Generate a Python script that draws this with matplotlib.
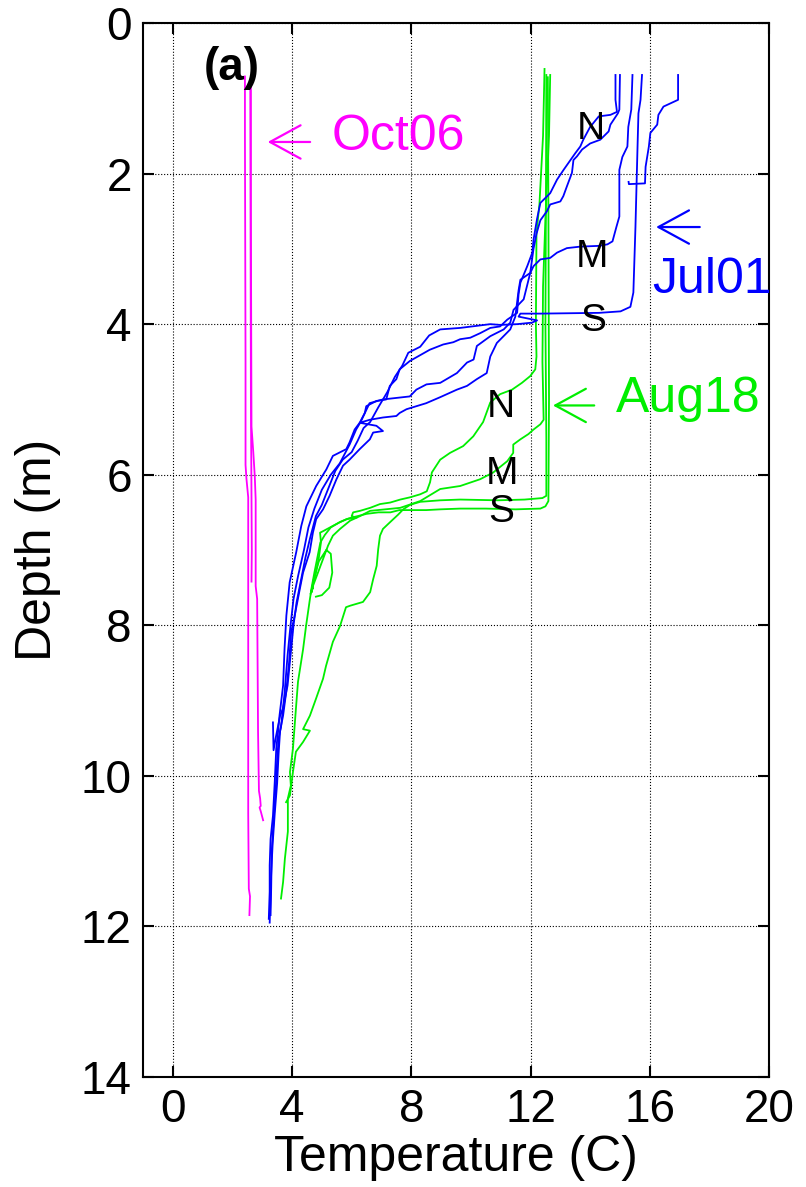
import matplotlib
matplotlib.use('Agg')
import matplotlib.pyplot as plt

plt.rcParams['font.family'] = ['Liberation Sans', 'DejaVu Sans']

# Jul01 casts (blue): temperature (C) and depth (m)
jul_n1_t = [14.85, 14.85, 14.9, 14.68, 14.29, 14.0, 13.77, 13.67, 13.5, 13.34, 13.11, 12.89, 12.66, 12.33,
            12.22, 12.1, 12.06, 11.89, 11.66, 11.6, 11.55, 11.22, 10.98, 10.65, 10.31, 9.98, 9.64, 9.41,
            9.07, 8.62, 7.95, 7.61, 7.5, 7.28, 7.16, 6.83, 6.49, 6.44, 6.27, 6.1, 5.93, 5.82, 5.37, 5.15,
            4.81, 4.48, 4.31, 4.14, 3.92, 3.81, 3.75, 3.7, 3.58, 3.53, 3.47, 3.42, 3.36, 3.28, 3.25, 3.25, 3.22]
jul_n1_d = [0.69, 1.02, 1.18, 1.22, 1.24, 1.38, 1.55, 1.64, 1.73, 1.82, 1.95, 2.08, 2.26, 2.39,
            2.6, 2.88, 3.05, 3.23, 3.45, 3.6, 3.85, 3.94, 4.03, 4.05, 4.12, 4.18, 4.2, 4.24,
            4.27, 4.34, 4.49, 4.6, 4.73, 4.82, 5.0, 5.02, 5.09, 5.18, 5.31, 5.4, 5.57, 5.66, 5.75, 5.93,
            6.15, 6.42, 6.68, 7.03, 7.43, 7.87, 8.3, 8.8, 9.2, 9.42, 9.64, 10.08, 10.53, 10.84, 11.19, 11.54, 11.9]

jul_n2_t = [15.0, 14.98, 14.93, 14.68, 14.62, 14.34, 14.0, 13.73, 13.56, 13.44, 13.39, 13.22, 13.1, 13.0,
            12.66, 12.55, 12.33, 12.2, 12.1, 11.99, 11.77, 11.43, 11.32, 11.1, 10.65, 10.2, 10.09, 9.87,
            9.53, 8.97, 8.51, 8.17, 7.95, 7.5, 7.05, 6.6, 6.3, 6.15, 5.93, 5.6, 5.3, 5.0, 4.75, 4.55,
            4.4, 4.2, 4.05, 3.95, 3.85, 3.75, 3.63, 3.55, 3.5, 3.45, 3.38, 3.32, 3.3, 3.28]
jul_n2_d = [0.69, 1.15, 1.2, 1.35, 1.44, 1.55, 1.6, 1.68, 1.77, 1.82, 1.99, 2.17, 2.3, 2.37,
            2.41, 2.5, 2.62, 2.8, 3.0, 3.32, 3.67, 3.81, 3.98, 4.07, 4.16, 4.29, 4.47, 4.51,
            4.65, 4.78, 4.8, 4.87, 4.96, 4.98, 5.0, 5.05, 5.3, 5.4, 5.6, 5.85, 6.0, 6.2, 6.45, 6.7,
            7.0, 7.35, 7.65, 8.0, 8.4, 8.9, 9.35, 9.5, 9.8, 10.2, 10.6, 11.0, 11.5, 11.85]

jul_m_t = [15.42, 15.38, 15.28, 15.25, 15.08, 14.98, 14.98, 14.88, 14.75, 14.58, 14.3, 13.67, 13.22, 12.89,
           12.66, 12.33, 12.1, 11.99, 11.66, 11.6, 11.49, 11.32, 10.87, 10.65, 10.53, 10.2, 9.87, 9.53,
           8.97, 8.5, 8.17, 7.84, 7.61, 7.5, 7.05, 6.61, 6.27, 6.83, 7.05, 6.72, 6.61, 6.27, 5.93, 5.71,
           5.49, 5.26, 5.04, 4.81, 4.7, 4.59, 4.37, 4.26, 4.09, 3.97, 3.9, 3.8, 3.7, 3.6, 3.55, 3.5,
           3.42, 3.35, 3.3, 3.27, 3.25]
jul_m_d = [0.69, 1.15, 1.38, 1.64, 1.78, 1.95, 2.57, 2.71, 2.9, 2.94, 2.96, 2.97, 2.99, 3.05,
           3.12, 3.14, 3.23, 3.32, 3.41, 3.55, 3.9, 4.07, 4.25, 4.43, 4.65, 4.73, 4.82, 4.87,
           4.97, 5.05, 5.09, 5.13, 5.18, 5.22, 5.24, 5.27, 5.31, 5.35, 5.42, 5.44, 5.53, 5.66, 5.8, 5.88,
           6.06, 6.28, 6.46, 6.59, 6.77, 7.03, 7.3, 7.52, 7.87, 8.09, 8.5, 8.9, 9.2, 9.4, 9.7, 10.1,
           10.5, 10.9, 11.3, 11.7, 11.95]

jul_s_t = [15.74, 15.69, 15.62, 15.59, 15.52, 15.45, 15.35, 15.02, 14.3, 12.33, 11.66, 11.6, 12.22, 12.05,
           11.55, 10.98, 10.65, 9.64, 8.97, 8.6, 8.3, 7.9, 7.7, 7.45, 7.2, 6.9, 6.62, 6.4, 6.2, 6.0,
           5.7, 5.45, 5.2, 5.0, 4.8, 4.6, 4.45, 4.3, 4.15, 4.05, 3.95, 3.85, 3.7, 3.6, 3.45, 3.38, 3.36]
jul_s_d = [0.69, 1.02, 1.2, 1.64, 2.71, 3.58, 3.77, 3.83, 3.85, 3.86, 3.86, 3.9, 3.95, 3.98,
           4.0, 4.01, 4.0, 4.05, 4.07, 4.15, 4.3, 4.38, 4.55, 4.7, 4.9, 5.1, 5.3, 5.38, 5.55, 5.7,
           5.8, 5.95, 6.2, 6.4, 6.55, 6.85, 7.1, 7.4, 7.7, 8.0, 8.4, 8.8, 9.1, 9.2, 9.5, 9.66, 9.29]

jul_r_t = [16.95, 16.95, 16.46, 16.29, 16.25, 16.02, 15.97, 15.86, 15.84, 15.3, 15.29]
jul_r_d = [0.69, 1.02, 1.11, 1.22, 1.35, 1.46, 1.64, 1.91, 2.13, 2.14, 2.11]

# Aug18 casts (green)
aug_n_t = [12.47, 12.42, 12.3, 12.2, 12.18, 12.2, 12.16, 11.99, 11.71, 11.38, 10.98, 10.65, 10.41,
           10.08, 9.74, 9.3, 8.97, 8.69, 8.63, 8.52, 8.3, 7.96, 7.63, 7.29, 6.95, 6.62, 6.28, 6.05, 6.0,
           6.17, 5.83, 5.61, 5.37, 5.04, 4.94, 4.97, 4.9, 4.8, 4.7, 4.62, 4.6, 4.47, 4.37, 4.2, 4.13,
           4.03, 3.93, 3.96, 3.86, 3.86, 3.76, 3.7, 3.63]
aug_n_d = [0.61, 1.5, 2.4, 2.8, 4.0, 4.43, 4.6, 4.69, 4.78, 4.87, 4.93, 5.04, 5.3,
           5.49, 5.62, 5.71, 5.8, 5.97, 6.1, 6.22, 6.26, 6.3, 6.33, 6.37, 6.39, 6.44, 6.48, 6.5, 6.55,
           6.57, 6.59, 6.63, 6.68, 6.75, 6.77, 6.9, 7.1, 7.3, 7.45, 7.6, 7.65, 8.01, 8.32, 8.75, 9.11,
           9.64, 9.95, 10.13, 10.3, 10.74, 11.1, 11.41, 11.63]

aug_m_t = [12.66, 12.62, 12.5, 12.42, 12.4, 12.44, 12.33, 12.1, 11.93, 11.66, 11.42, 11.42, 11.22, 10.75,
           10.31, 9.64, 8.97, 8.3, 7.63, 6.62, 6.28, 5.95, 5.61, 5.37, 5.21, 5.04, 4.87, 4.7, 4.66, 4.72,
           4.9, 5.15, 5.3, 5.35, 5.25, 5.0, 4.8]
aug_m_d = [0.69, 1.5, 2.6, 3.5, 4.5, 5.27, 5.33, 5.4, 5.46, 5.53, 5.6, 5.71, 5.82, 5.97,
           6.06, 6.15, 6.19, 6.35, 6.44, 6.48, 6.55, 6.61, 6.72, 6.81, 6.94, 7.12, 7.3, 7.48, 7.56, 7.4,
           7.15, 7.0, 7.05, 7.3, 7.5, 7.6, 7.62]

aug_s1_t = [12.53, 12.52, 12.5, 12.53, 12.53, 12.4, 11.8, 10.9, 9.64, 8.97, 8.3, 7.96, 7.73, 7.56,
            7.29, 7.05, 6.95, 6.89, 6.84, 6.72, 6.62, 6.38, 5.95, 5.81, 5.61, 5.37, 5.14, 5.04, 4.8, 4.6,
            4.37, 4.6, 4.37, 4.13, 4.03, 3.93, 3.8]
aug_s1_d = [0.69, 2.0, 4.0, 5.5, 6.28, 6.31, 6.33, 6.34, 6.33, 6.34, 6.36, 6.4, 6.46, 6.53,
            6.63, 6.72, 6.81, 6.99, 7.21, 7.39, 7.56, 7.69, 7.74, 7.76, 8.01, 8.22, 8.54, 8.71, 8.98, 9.2,
            9.38, 9.4, 9.55, 9.68, 9.95, 10.26, 10.35]

aug_s2_t = [12.58, 12.6, 12.62, 12.6, 12.5, 12.33, 11.5, 10.5, 9.64, 8.97, 8.5, 8.0, 7.6, 7.3,
            6.9, 6.5, 6.2, 5.9, 5.6, 5.3, 5.1, 4.95, 4.85, 4.75, 4.68, 4.63, 4.7, 4.62]
aug_s2_d = [0.72, 2.5, 5.0, 6.35, 6.42, 6.45, 6.46, 6.45, 6.45, 6.46, 6.47, 6.47, 6.47, 6.5,
            6.5, 6.52, 6.55, 6.58, 6.63, 6.7, 6.8, 6.9, 7.1, 7.3, 7.45, 7.56, 7.5, 7.58]

# Oct06 casts (magenta)
oct_1_t = [2.42, 2.42, 2.43, 2.44, 2.44, 2.47, 2.53, 2.53, 2.53, 2.53, 2.55, 2.59, 2.57]
oct_1_d = [0.71, 1.5, 3.0, 4.5, 5.87, 6.05, 6.3, 8.0, 9.5, 10.5, 11.5, 11.6, 11.85]

oct_2_t = [2.62, 2.62, 2.63, 2.64, 2.7, 2.75, 2.78, 2.78, 2.83, 2.86, 2.89, 2.93, 2.95, 2.91, 2.95, 3.03]
oct_2_d = [0.84, 2.5, 4.0, 5.36, 5.7, 6.02, 6.33, 7.48, 7.65, 9.42, 10.2, 10.3, 10.4, 10.42, 10.47, 10.59]

oct_3_t = [2.6, 2.61, 2.62, 2.64, 2.65, 2.64]
oct_3_d = [0.9, 3.0, 5.0, 6.3, 7.0, 7.42]

blue = '#0000ff'
green = '#00ee00'
magenta = '#ff00ff'

fig = plt.figure(figsize=(8.06, 11.87), dpi=100)
ax = fig.add_axes([0.1774, 0.0927, 0.9541 - 0.1774, 0.9806 - 0.0927])

lw = 1.3
for t, d in [(oct_1_t, oct_1_d), (oct_2_t, oct_2_d), (oct_3_t, oct_3_d)]:
    ax.plot(t, d, color=magenta, lw=lw)
for t, d in [(aug_n_t, aug_n_d), (aug_m_t, aug_m_d), (aug_s1_t, aug_s1_d), (aug_s2_t, aug_s2_d)]:
    ax.plot(t, d, color=green, lw=lw)
for t, d in [(jul_n1_t, jul_n1_d), (jul_n2_t, jul_n2_d), (jul_m_t, jul_m_d),
             (jul_s_t, jul_s_d), (jul_r_t, jul_r_d)]:
    ax.plot(t, d, color=blue, lw=lw)

ax.set_xlim(-1, 20)
ax.set_ylim(14, 0)
ax.set_xticks([0, 4, 8, 12, 16, 20])
ax.set_yticks([0, 2, 4, 6, 8, 10, 12, 14])
ax.grid(True, color='k', linestyle=':', linewidth=0.8)
ax.tick_params(direction='in', length=8, width=1.5, labelsize=33,
               top=True, right=True, pad=8)
for s in ax.spines.values():
    s.set_linewidth(1.5)
ax.set_xlabel('Temperature (C)', fontsize=36, labelpad=2)
ax.set_ylabel('Depth (m)', fontsize=36, labelpad=14)

# labels and arrows
ax.text(1.97, 0.6, '(a)', fontsize=33, fontweight='bold', ha='center', va='center')

arrow = dict(arrowstyle='->,head_length=0.55,head_width=0.3', lw=1.6, mutation_scale=40)
ax.annotate('', xy=(3.09, 1.58), xytext=(4.7, 1.58), arrowprops=dict(arrow, color=magenta))
ax.text(5.34, 1.52, 'Oct06', color=magenta, fontsize=36, ha='left', va='center')
ax.annotate('', xy=(16.12, 2.71), xytext=(17.77, 2.71), arrowprops=dict(arrow, color=blue))
ax.text(16.08, 3.42, 'Jul01', color=blue, fontsize=36, ha='left', va='center')
ax.annotate('', xy=(12.66, 5.08), xytext=(14.23, 5.08), arrowprops=dict(arrow, color=green))
ax.text(14.85, 5.0, 'Aug18', color=green, fontsize=36, ha='left', va='center')

for x, y, s in [(14.02, 1.41, 'N'), (14.06, 3.11, 'M'), (14.09, 3.96, 'S'),
                (11.01, 5.1, 'N'), (11.04, 5.99, 'M'), (11.03, 6.5, 'S')]:
    ax.text(x, y, s, fontsize=28, ha='center', va='center')

fig.savefig('out.png', dpi=100)
